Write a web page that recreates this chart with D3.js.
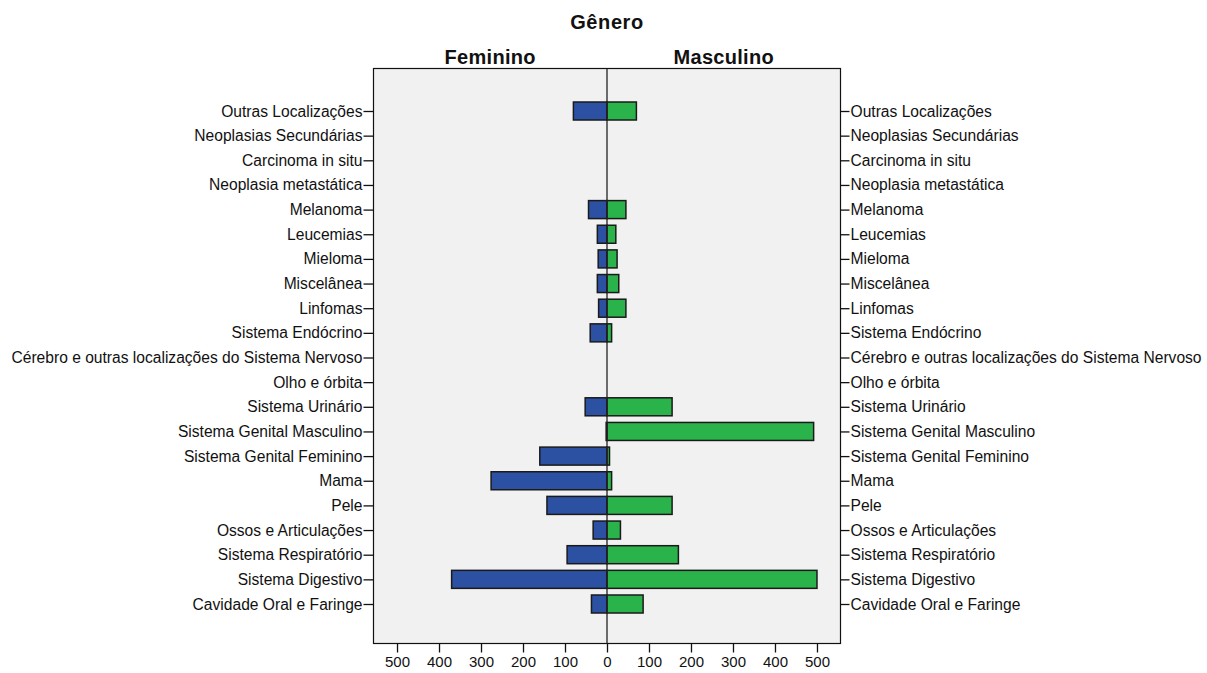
<!DOCTYPE html>
<html>
<head>
<meta charset="utf-8">
<script src="https://cdn.jsdelivr.net/npm/d3@7/dist/d3.min.js"></script>
<style>
body { margin: 0; background: #fff; }
svg { display: block; font-family: "Liberation Sans", Arial, sans-serif; }
</style>
</head>
<body>
<svg id="chart" width="1207" height="673"></svg>
<script>
const categories = [
  "Outras Localizações",
  "Neoplasias Secundárias",
  "Carcinoma in situ",
  "Neoplasia metastática",
  "Melanoma",
  "Leucemias",
  "Mieloma",
  "Miscelânea",
  "Linfomas",
  "Sistema Endócrino",
  "Cérebro e outras localizações do Sistema Nervoso",
  "Olho e órbita",
  "Sistema Urinário",
  "Sistema Genital Masculino",
  "Sistema Genital Feminino",
  "Mama",
  "Pele",
  "Ossos e Articulações",
  "Sistema Respiratório",
  "Sistema Digestivo",
  "Cavidade Oral e Faringe"
];
const feminino  = [80, 0, 0, 0, 44, 23, 21, 23, 20, 40, 0, 0, 52, 2, 160, 276, 143, 33, 95, 370, 37];
const masculino = [70, 0, 0, 0, 45, 21, 24, 28, 45, 11, 0, 0, 155, 492, 6, 11, 155, 32, 170, 500, 86];
const tickValues = [0, 100, 200, 300, 400, 500];
const title = "Gênero";
const groupLabels = ["Feminino", "Masculino"];

const svg = d3.select("#chart");
const plot = { left: 373.5, right: 840.5, top: 68.5, bottom: 643.5 };
const zeroX = 607;

const xF = d3.scaleLinear().domain([0, 556]).range([zeroX, plot.left]);
const xM = d3.scaleLinear().domain([0, 556]).range([zeroX, plot.right]);
const y = d3.scalePoint().domain(categories).range([111, 604]);
const barH = 18;

// background
svg.append("rect")
  .attr("x", plot.left).attr("y", plot.top)
  .attr("width", plot.right - plot.left).attr("height", plot.bottom - plot.top)
  .attr("fill", "#f0f1f0").attr("stroke", "#111").attr("stroke-width", 1.2);

// titles
svg.append("text").attr("x", zeroX).attr("y", 29).attr("text-anchor", "middle")
  .attr("font-size", 20).attr("font-weight", "bold").attr("letter-spacing", 0.6)
  .attr("fill", "#111").text(title);
svg.append("text").attr("x", (plot.left + zeroX) / 2).attr("y", 64).attr("text-anchor", "middle")
  .attr("font-size", 20).attr("font-weight", "bold").attr("letter-spacing", 0.3)
  .attr("fill", "#111").text(groupLabels[0]);
svg.append("text").attr("x", (plot.right + zeroX) / 2).attr("y", 64).attr("text-anchor", "middle")
  .attr("font-size", 20).attr("font-weight", "bold").attr("letter-spacing", 0.3)
  .attr("fill", "#111").text(groupLabels[1]);

// bars
const rows = categories.map((c, i) => ({ c, f: feminino[i], m: masculino[i] }));
svg.append("g").selectAll("rect").data(rows.filter(d => d.f > 0)).join("rect")
  .attr("x", d => xF(d.f)).attr("y", d => y(d.c) - barH / 2)
  .attr("width", d => zeroX - xF(d.f)).attr("height", barH)
  .attr("fill", "#2c51a3").attr("stroke", "#1a1a1a").attr("stroke-width", 1.5);
svg.append("g").selectAll("rect").data(rows.filter(d => d.m > 0)).join("rect")
  .attr("x", zeroX).attr("y", d => y(d.c) - barH / 2)
  .attr("width", d => xM(d.m) - zeroX).attr("height", barH)
  .attr("fill", "#2bb34b").attr("stroke", "#1a1a1a").attr("stroke-width", 1.5);

// zero line
svg.append("line").attr("x1", zeroX).attr("x2", zeroX)
  .attr("y1", plot.top).attr("y2", plot.bottom)
  .attr("stroke", "#222").attr("stroke-width", 1.3);

// y axes
const leftAxis = d3.axisLeft(y).tickSize(10).tickPadding(1);
const gL = svg.append("g").attr("transform", `translate(${plot.left},0)`).call(leftAxis);
const rightAxis = d3.axisRight(y).tickSize(9).tickPadding(1);
const gR = svg.append("g").attr("transform", `translate(${plot.right},0)`).call(rightAxis);

// x axes
const bottomF = d3.axisBottom(xF).tickValues(tickValues).tickSize(9).tickPadding(4);
const gBF = svg.append("g").attr("transform", `translate(0,${plot.bottom})`).call(bottomF);
const bottomM = d3.axisBottom(xM).tickValues(tickValues.filter(v => v > 0)).tickSize(9).tickPadding(4);
const gBM = svg.append("g").attr("transform", `translate(0,${plot.bottom})`).call(bottomM);

[gL, gR, gBF, gBM].forEach(g => {
  g.select(".domain").remove();
  g.selectAll(".tick line").attr("stroke", "#111").attr("stroke-width", 1.3);
  g.selectAll(".tick text").attr("font-size", 15).attr("fill", "#111")
    .attr("font-family", "'Liberation Sans', Arial, sans-serif");
});
[gL, gR].forEach(g => g.selectAll(".tick text").attr("font-size", 15.6));
</script>
</body>
</html>
